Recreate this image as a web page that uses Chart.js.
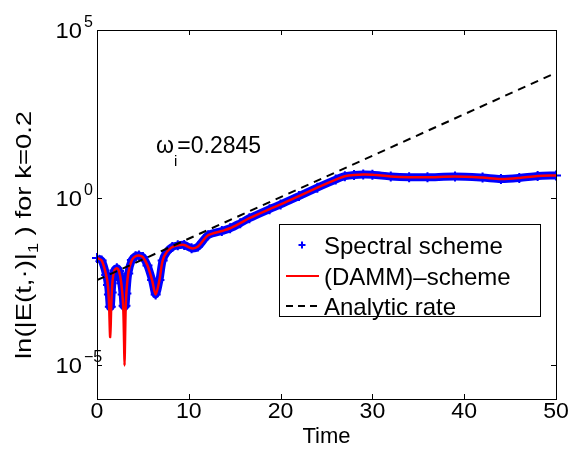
<!DOCTYPE html>
<html><head><meta charset="utf-8">
<script src="https://cdn.jsdelivr.net/npm/chart.js@4.4.0/dist/chart.umd.min.js"></script>
<style>html,body{margin:0;padding:0;background:#fff}canvas{display:block}</style>
</head><body>
<canvas id="c" width="572" height="450"></canvas>
<script>
// ---- data ----
const dammTime = [0,0.5,1.0,1.2,1.32,1.44,1.56,1.7,1.9,2.16,2.4,2.65,2.85,2.95,3.0,3.05,3.15,3.4,3.8,4.2,4.57,5.0,5.5,6.0,6.39,6.8,7.15,7.6,8.2,8.8,9.5,10.3,11.0,12.1,13.6,14.5,15.6,16.6,18.8,20,22,24,26,27,28,29,30,32,34,36,39,42,44,46,48,50];
const dammValue = [0.016,0.0135,0.005,0.0022,0.0006,0.00007,0.0007,0.0035,0.0068,0.0079,0.0065,0.0028,0.0006,0.00005,0.00001,0.00005,0.0008,0.0055,0.014,0.018,0.019,0.017,0.0095,0.0035,0.0013,0.0035,0.0135,0.024,0.034,0.038,0.039,0.031,0.035,0.076,0.102,0.123,0.174,0.245,0.457,0.63,1.12,2.0,3.47,4.37,4.79,4.9,4.84,4.3,4.07,4.07,4.3,3.98,3.63,3.9,4.47,4.62];
const spectralTime = [0,0.5,1.0,1.2,1.3,1.4,1.5,1.6,1.7,1.9,2.16,2.4,2.65,2.8,2.9,3.0,3.1,3.2,3.4,3.8,4.2,4.57,5.0,5.5,6.0,6.39,6.8,7.15,7.6,8.2,8.8,9.5,10.3,11.0,12.1,13.6,14.5,15.6,16.6,18.8,20,22,24,26,27,28,29,30,32,34,36,39,42,44,46,48,50];
const spectralValue = [0.016,0.0135,0.005,0.0025,0.0013,0.00056,0.00056,0.0015,0.0035,0.0068,0.0079,0.0065,0.0028,0.0013,0.0006,0.00056,0.0006,0.0014,0.0055,0.014,0.018,0.019,0.017,0.0095,0.0035,0.0013,0.0035,0.0135,0.024,0.034,0.038,0.039,0.031,0.035,0.076,0.102,0.123,0.174,0.245,0.457,0.63,1.12,2.0,3.47,4.37,4.79,4.9,4.84,4.3,4.07,4.07,4.3,3.98,3.63,3.9,4.47,4.62];
const analyticTime = [0, 50];
const analyticValue = [0.0035, 5300];
const xTicks = [0,10,20,30,40,50];
const yTickExps = [-5,0,5];
const seriesLabels = ['Spectral scheme','(DAMM)\u2013scheme','Analytic rate'];
const rateText = '=0.2845';

const toXY = (t, v) => t.map((x, i) => ({x, y: v[i]}));
const FONT = "'Liberation Sans', Arial, sans-serif";

// draw text stretched along its direction; returns advance width
function txt(ctx, s, x, y, size, align, stretch) {
  stretch = stretch || 1;
  ctx.save();
  ctx.font = size + 'px ' + FONT;
  const w = ctx.measureText(s).width * stretch;
  let x0 = x;
  if (align === 'center') x0 = x - w / 2; else if (align === 'right') x0 = x - w;
  ctx.translate(x0, y); ctx.scale(stretch, 1);
  ctx.textAlign = 'left';
  ctx.fillText(s, 0, 0);
  ctx.restore();
  return w;
}

const overlay = {
  id: 'overlay',
  afterDraw(chart) {
    const ctx = chart.ctx, a = chart.chartArea, xs = chart.scales.x, ys = chart.scales.y;
    ctx.save();
    ctx.strokeStyle = '#000'; ctx.lineWidth = 1;
    ctx.strokeRect(Math.round(a.left)+0.5, Math.round(a.top)+0.5, Math.round(a.right-a.left), Math.round(a.bottom-a.top));
    const tl = 5;
    ctx.beginPath();
    xTicks.forEach(t => {
      const px = Math.round(xs.getPixelForValue(t)) + 0.5;
      ctx.moveTo(px, a.bottom); ctx.lineTo(px, a.bottom - tl);
      ctx.moveTo(px, a.top); ctx.lineTo(px, a.top + tl);
    });
    yTickExps.forEach(e => {
      const py = Math.round(ys.getPixelForValue(Math.pow(10, e))) + 0.5;
      ctx.moveTo(a.left, py); ctx.lineTo(a.left + tl, py);
      ctx.moveTo(a.right, py); ctx.lineTo(a.right - tl, py);
    });
    ctx.stroke();
    ctx.fillStyle = '#000'; ctx.textBaseline = 'alphabetic';
    xTicks.forEach(t => txt(ctx, String(t), xs.getPixelForValue(t), 418, 22, 'center', 1.05));
    txt(ctx, 'Time', xs.getPixelForValue(25), 443, 22, 'center');
    yTickExps.forEach(e => {
      const py = ys.getPixelForValue(Math.pow(10, e));
      txt(ctx, '10', 82, py + 8, 22, 'right', 1.08);
      txt(ctx, e < 0 ? '\u2212' + Math.abs(e) : String(e), 84, py - 3, 16, 'left');
    });
    // y title (rotated)
    ctx.save();
    ctx.translate(31, 359); ctx.rotate(-Math.PI / 2);
    let u = 0;
    u += txt(ctx, 'ln(|E(t,\u00b7)|', u, 0, 22, 'left', 1.25);
    u += txt(ctx, '1', u, 7, 15, 'left', 1.2);
    txt(ctx, ' ) for k=0.2', u, 0, 22, 'left', 1.25);
    ctx.restore();
    // annotation
    let ax = 156;
    ax += txt(ctx, '\u03c9', ax, 153, 23, 'left');
    ax += txt(ctx, 'i', ax, 166, 15, 'left');
    txt(ctx, rateText, ax, 153, 23, 'left');
    // legend
    const lx = 279, ly = 224, lw = 261, lh = 92;
    ctx.fillStyle = '#fff'; ctx.fillRect(lx, ly, lw, lh);
    ctx.strokeStyle = '#000'; ctx.lineWidth = 1;
    ctx.strokeRect(lx + 0.5, ly + 0.5, lw, lh);
    const rows = [245, 276, 306];
    const ds = chart.data.datasets;
    ctx.strokeStyle = ds[0].pointBorderColor; ctx.lineWidth = 2;
    ctx.beginPath();
    ctx.moveTo(302 - 3.5, rows[0]); ctx.lineTo(302 + 3.5, rows[0]);
    ctx.moveTo(302, rows[0] - 3.5); ctx.lineTo(302, rows[0] + 3.5);
    ctx.stroke();
    ctx.strokeStyle = ds[1].borderColor; ctx.lineWidth = 2;
    ctx.beginPath(); ctx.moveTo(286, rows[1]); ctx.lineTo(319, rows[1]); ctx.stroke();
    ctx.strokeStyle = ds[2].borderColor; ctx.lineWidth = 2; ctx.setLineDash([7, 5]);
    ctx.beginPath(); ctx.moveTo(286, rows[2]); ctx.lineTo(319, rows[2]); ctx.stroke();
    ctx.setLineDash([]);
    ctx.fillStyle = '#000';
    seriesLabels.forEach((s, i) => txt(ctx, s, 324, rows[i] + 8.5, 24, 'left'));
    ctx.restore();
  }
};

new Chart(document.getElementById('c'), {
  type: 'line',
  data: {
    datasets: [
      {label: seriesLabels[0], data: toXY(spectralTime, spectralValue), borderColor: '#0000ff', borderWidth: 8,
       pointStyle: 'cross', pointRadius: 5, pointBorderWidth: 2, pointBorderColor: '#0000ff', pointBackgroundColor: '#0000ff',
       tension: 0.3, clip: 8, order: 3},
      {label: seriesLabels[1], data: toXY(dammTime, dammValue), borderColor: '#ff0000', borderWidth: 2.5,
       pointRadius: 0, tension: 0.3, order: 2},
      {label: seriesLabels[2], data: toXY(analyticTime, analyticValue), borderColor: '#000000', borderWidth: 2,
       borderDash: [8, 6], pointRadius: 0, tension: 0, order: 1}
    ]
  },
  options: {
    responsive: false, animation: false, devicePixelRatio: 1,
    layout: {padding: {left: 97, top: 30, right: 16, bottom: 51}},
    plugins: {legend: {display: false}, tooltip: {enabled: false}},
    scales: {
      x: {type: 'linear', min: 0, max: 50, display: false},
      y: {type: 'logarithmic', min: 1e-6, max: 1e5, display: false}
    }
  },
  plugins: [overlay]
});
</script>
</body></html>
